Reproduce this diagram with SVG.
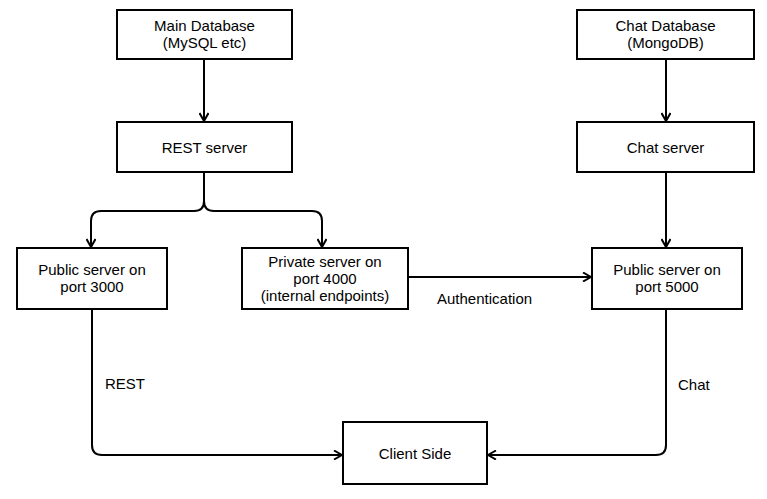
<svg xmlns="http://www.w3.org/2000/svg" width="767" height="499" viewBox="0 0 767 499">
<style>
.box{fill:#fff;stroke:#000;stroke-width:2}
.t{font-family:"Liberation Sans",Arial,sans-serif;font-size:15px;fill:#000;text-anchor:middle}
.lbl{font-family:"Liberation Sans",Arial,sans-serif;font-size:15px;fill:#000}
.c{fill:none;stroke:#000;stroke-width:2}
</style>
<defs>
<marker id="arr" viewBox="0 0 10 10" refX="9" refY="5" markerWidth="10" markerHeight="10" markerUnits="userSpaceOnUse" orient="auto">
<path d="M1,0.5 L9,5 L1,9.5" fill="none" stroke="#000" stroke-width="2"/>
</marker>
</defs>
<rect width="767" height="499" fill="#fff"/>
<g id="connectors">
<path class="c" d="M204,59 V121" marker-end="url(#arr)"/>
<path class="c" d="M204,172 V201 Q204,211 194,211 H101 Q91,211 91,221 V247" marker-end="url(#arr)"/>
<path class="c" d="M204,201 Q204,211 214,211 H312 Q322,211 322,221 V247" marker-end="url(#arr)"/>
<path class="c" d="M666,59 V121" marker-end="url(#arr)"/>
<path class="c" d="M666,172 V247" marker-end="url(#arr)"/>
<path class="c" d="M408,277 H591" marker-end="url(#arr)"/>
<path class="c" d="M92,309 V445 Q92,455 102,455 H342" marker-end="url(#arr)"/>
<path class="c" d="M666,309 V445 Q666,455 656,455 H488" marker-end="url(#arr)"/>
<text class="lbl" x="437" y="304">Authentication</text>
<text class="lbl" x="105" y="389">REST</text>
<text class="lbl" x="678" y="390">Chat</text>
</g>
<g id="main-db"><rect class="box" x="117" y="10" width="175" height="49"/><text class="t" x="204.5" y="31">Main Database</text><text class="t" x="204.5" y="48">(MySQL etc)</text></g>
<g id="rest-server"><rect class="box" x="117" y="122" width="175" height="50"/><text class="t" x="204.5" y="153">REST server</text></g>
<g id="chat-db"><rect class="box" x="577" y="10" width="177" height="49"/><text class="t" x="665.5" y="31">Chat Database</text><text class="t" x="665.5" y="48">(MongoDB)</text></g>
<g id="chat-server"><rect class="box" x="577" y="122" width="177" height="50"/><text class="t" x="665.5" y="153">Chat server</text></g>
<g id="public-3000"><rect class="box" x="17" y="248" width="150" height="61"/><text class="t" x="92" y="275">Public server on</text><text class="t" x="92" y="292">port 3000</text></g>
<g id="private-4000"><rect class="box" x="242" y="248" width="166" height="61"/><text class="t" x="325" y="267">Private server on</text><text class="t" x="325" y="284">port 4000</text><text class="t" x="325" y="301">(internal endpoints)</text></g>
<g id="public-5000"><rect class="box" x="592" y="248" width="150" height="61"/><text class="t" x="667" y="275">Public server on</text><text class="t" x="667" y="292">port 5000</text></g>
<g id="client"><rect class="box" x="343" y="422" width="144" height="62"/><text class="t" x="415" y="459">Client Side</text></g>
</svg>
